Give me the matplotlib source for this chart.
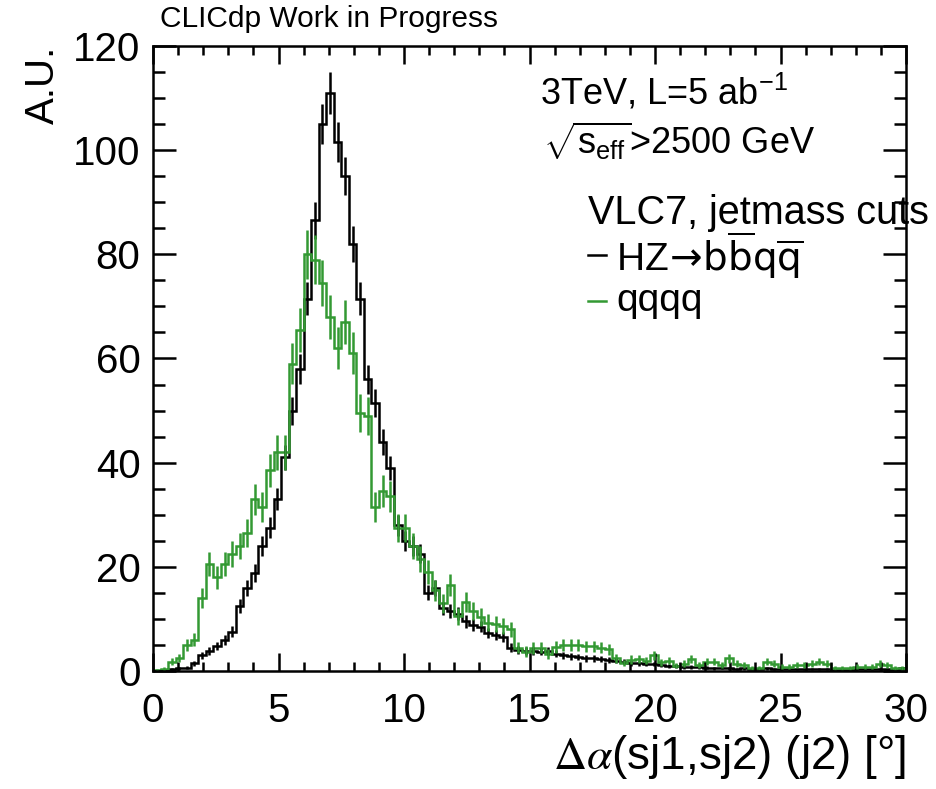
import numpy as np
import matplotlib
matplotlib.use("Agg")
import matplotlib.pyplot as plt
from matplotlib.ticker import MultipleLocator

plt.rcParams["font.family"] = ["Liberation Sans", "DejaVu Sans"]
plt.rcParams["mathtext.fontset"] = "custom"
plt.rcParams["mathtext.rm"] = "Liberation Sans"
plt.rcParams["mathtext.it"] = "Liberation Sans:italic"
plt.rcParams["mathtext.bf"] = "Liberation Sans:bold"

# 100 bins of width 0.3 deg from 0 to 30
bin_edges = np.linspace(0.0, 30.0, 101)

hz_bbqq = [
    0.0, 0.1, 0.4, 0.5, 0.6, 1.5, 3.0, 3.8, 4.8, 6.0,
    7.5, 12.5, 16.0, 18.8, 24.0, 27.5, 33.0, 41.0, 50.0, 58.0,
    71.5, 86.5, 105.0, 111.0, 101.5, 95.0, 82.0, 71.5, 56.0, 51.5,
    44.0, 39.0, 28.0, 25.0, 24.0, 22.5, 15.0, 16.0, 12.0, 11.5,
    11.0, 9.5, 8.8, 8.5, 7.3, 6.9, 6.5, 4.5, 4.0, 3.8,
    3.9, 3.7, 3.8, 3.3, 3.0, 2.8, 2.7, 2.4, 2.4, 2.3,
    2.1, 2.0, 1.8, 1.5, 1.5, 1.4, 1.3, 1.1, 1.0, 0.9,
    0.8, 0.8, 0.7, 0.6, 0.5, 0.6, 0.5, 0.4, 0.5, 0.4,
    0.4, 0.5, 0.3, 0.4, 0.3, 0.3, 0.3, 0.4, 0.3, 0.3,
    0.2, 0.2, 0.2, 0.3, 0.3, 0.3, 0.4, 0.3, 0.2, 0.5,
]

qqqq = [
    0.2, 0.4, 1.8, 2.5, 5.0, 6.0, 14.0, 20.5, 18.0, 20.5,
    22.5, 24.0, 26.5, 33.0, 31.5, 38.5, 42.0, 42.0, 59.0, 65.5,
    80.0, 79.0, 74.5, 68.0, 62.0, 67.0, 61.0, 49.5, 49.0, 31.5,
    34.5, 33.5, 27.5, 27.5, 24.0, 21.5, 19.0, 15.5, 13.0, 16.5,
    10.5, 13.3, 11.5, 10.4, 9.3, 9.0, 8.7, 8.0, 4.5, 3.7,
    4.4, 4.5, 3.2, 4.6, 5.0, 5.0, 5.0, 4.7, 4.7, 4.5,
    4.2, 2.4, 1.5, 2.2, 2.3, 2.0, 3.0, 1.7, 2.0, 1.0,
    1.4, 2.3, 1.2, 1.8, 1.8, 1.1, 2.4, 1.4, 1.1, 0.5,
    0.5, 1.8, 1.4, 0.8, 0.8, 1.1, 1.1, 1.4, 1.8, 1.4,
    0.5, 0.5, 0.5, 0.8, 0.8, 0.8, 1.4, 1.1, 0.5, 0.5,
]

# per-event weight of each sample (error = sqrt(w * content))
hz_weight = 0.144
qqqq_weight = 0.27

BLACK = "#000000"
GREEN = "#339933"


def draw_hist(ax, values, weight, color):
    values = np.asarray(values)
    centers = 0.5 * (bin_edges[:-1] + bin_edges[1:])
    errors = np.sqrt(weight * values)
    ax.stairs(values, bin_edges, color=color, lw=1.8, baseline=None)
    ax.errorbar(centers, values, yerr=errors, fmt="none", ecolor=color,
                elinewidth=1.8, capsize=0)


def main():
    fig = plt.figure(figsize=(9.37, 7.89), dpi=100)
    ax = fig.add_axes([0.1633, 0.1496, 0.8037, 0.7921])

    draw_hist(ax, hz_bbqq, hz_weight, BLACK)
    draw_hist(ax, qqqq, qqqq_weight, GREEN)

    ax.set_xlim(0, 30)
    ax.set_ylim(0, 120)
    ax.xaxis.set_major_locator(MultipleLocator(5))
    ax.xaxis.set_minor_locator(MultipleLocator(1))
    ax.yaxis.set_major_locator(MultipleLocator(20))
    ax.yaxis.set_minor_locator(MultipleLocator(5))
    ax.tick_params(which="both", direction="in", top=True, right=True,
                   width=1.8, labelsize=29)
    ax.tick_params(axis="x", which="major", length=13, pad=15)
    ax.tick_params(axis="x", which="minor", length=6.5)
    ax.tick_params(axis="y", which="major", length=16.5, pad=9)
    ax.tick_params(axis="y", which="minor", length=8.5)
    for spine in ax.spines.values():
        spine.set_linewidth(1.8)

    ax.set_xlabel(r"$\Delta\alpha$(sj1,sj2) (j2) [°]", fontsize=33,
                  loc="right", labelpad=2, math_fontfamily="stix")
    ax.set_ylabel("A.U.", fontsize=29, loc="top", labelpad=8)

    fig.text(0.171, 0.966, "CLICdp Work in Progress", fontsize=21.5,
             ha="left", va="baseline")

    ax.text(0.514, 0.925, r"3TeV, L=5 ab$^{-1}$", fontsize=26,
            transform=ax.transAxes, ha="left", va="center")
    ax.text(0.518, 0.848, r"$\sqrt{\mathrm{s}_{\mathrm{eff}}}$>2500 GeV",
            fontsize=26, transform=ax.transAxes, ha="left", va="center")

    ax.text(0.578, 0.733, "VLC7, jetmass cuts", fontsize=28.5,
            transform=ax.transAxes, ha="left", va="center", clip_on=False)
    entries = [
        (r"HZ$\!\rightarrow\!\mathrm{b}\overline{\mathrm{b}}\mathrm{q}\overline{\mathrm{q}}$",
         BLACK, 0.665, "dejavusans"),
        ("qqqq", GREEN, 0.592, None),
    ]
    for label, color, y, mfont in entries:
        ax.plot([0.578, 0.602], [y, y], color=color, lw=1.8,
                transform=ax.transAxes, clip_on=False)
        ax.text(0.615, y, label, fontsize=28, transform=ax.transAxes,
                ha="left", va="center", math_fontfamily=mfont)

    fig.savefig("out.png", dpi=100)


if __name__ == "__main__":
    main()
